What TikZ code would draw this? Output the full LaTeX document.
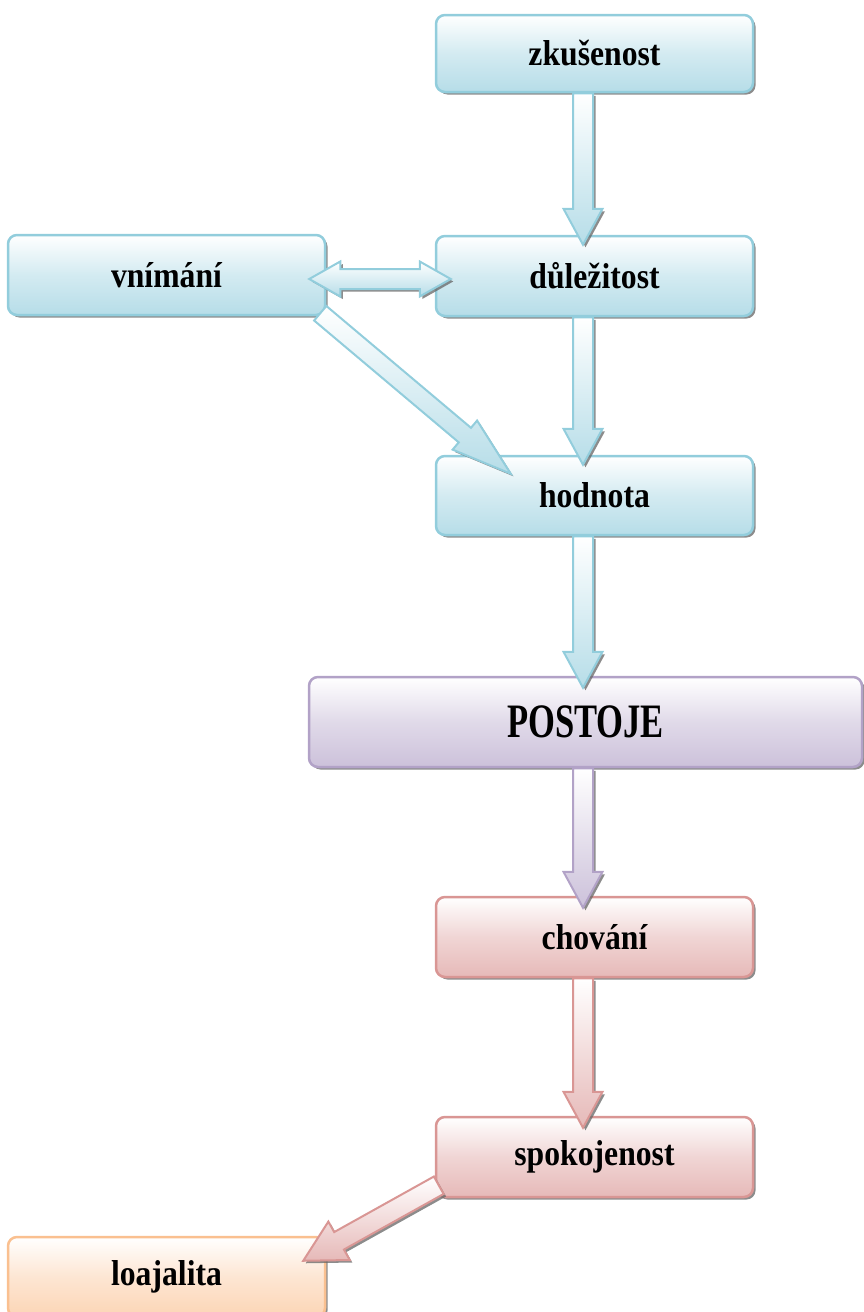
\documentclass[tikz,border=0pt]{standalone}
\usepackage{fontspec}
\usepackage{graphicx}
\setmainfont{Liberation Serif}
\usetikzlibrary{calc,shadows}
\definecolor{blline}{HTML}{92CDDC}
\definecolor{blfill}{HTML}{B6DDE8}
\definecolor{puline}{HTML}{B2A2C7}
\definecolor{pufill}{HTML}{CCC1DA}
\definecolor{reline}{HTML}{D99694}
\definecolor{refill}{HTML}{E6B9B8}
\definecolor{orline}{HTML}{FAC090}
\definecolor{orfill}{HTML}{FCD5B5}
\newcommand\lab[1]{\scalebox{0.88}[1]{\fontsize{36}{40}\selectfont\bfseries #1}}
\newcommand\biglab[1]{\scalebox{0.72}[1]{\fontsize{48}{52}\selectfont\bfseries #1}}
% block arrow: style, start, tip, half shaft, half head, head length
\newcommand\blockarrow[6]{%
  \coordinate (ba-h) at ($(#3)!#6!(#2)$);
  \draw[#1] ($(#2)!#4!90:(#3)$) -- ($(ba-h)!#4!90:(#3)$) -- ($(ba-h)!#5!90:(#3)$) -- (#3)
    -- ($(ba-h)!#5!-90:(#3)$) -- ($(ba-h)!#4!-90:(#3)$) -- ($(#2)!#4!-90:(#3)$) -- cycle;}
\newcommand\dblarrow[6]{%
  \coordinate (da-a) at ($(#2)!#6!(#3)$);
  \coordinate (da-b) at ($(#3)!#6!(#2)$);
  \draw[#1] (#2) -- ($(da-a)!#5!90:(#3)$) -- ($(da-a)!#4!90:(#3)$) -- ($(da-b)!#4!-90:(#2)$)
    -- ($(da-b)!#5!-90:(#2)$) -- (#3) -- ($(da-b)!#5!90:(#2)$) -- ($(da-b)!#4!90:(#2)$)
    -- ($(da-a)!#4!-90:(#3)$) -- ($(da-a)!#5!-90:(#3)$) -- cycle;}
\tikzset{
  shad/.style={drop shadow={shadow xshift=2.5pt, shadow yshift=-2.5pt, fill=black!60, opacity=0.75}},
  box/.style={draw=#1line, line width=2.5pt, rounded corners=9pt,
    minimum width=317pt, minimum height=80pt, inner sep=0pt,
    top color=white, bottom color=#1fill, middle color=white!40!#1fill, shad},
  barrow/.style={draw=#1line, line width=2pt, line join=miter,
    top color=white, bottom color=#1fill, shad},
}
\begin{document}
\begin{tikzpicture}[x=1pt,y=-1pt]
\useasboundingbox (0,0) rectangle (863,1312);
\node[box=bl, minimum height=77pt] (zk) at (594.5,53.5) {\lab{zkušenost}};
\node[box=bl] (vn) at (166.5,275) {\lab{vnímání}};
\node[box=bl] (dul) at (594.5,276) {\lab{důležitost}};
\node[box=bl, minimum height=79pt] (hod) at (594.5,495.5) {\lab{hodnota}};
\node[box=pu, minimum width=553pt, minimum height=90pt] (post) at (585.5,722) {\biglab{POSTOJE}};
\node[box=re] (chov) at (594.5,937) {\lab{chování}};
\node[box=re] (spok) at (594.5,1157) {\lab{spokojenost}};
\node[box=or] (loaj) at (166.5,1277) {\lab{loajalita}};

\coordinate (axis) at (583,0);
\coordinate (s1) at (zk.south -| axis);   \coordinate (t1) at ($(dul.north -| axis)+(0,10)$);
\coordinate (s2) at (dul.south -| axis);  \coordinate (t2) at ($(hod.north -| axis)+(0,10)$);
\coordinate (s3) at (hod.south -| axis);  \coordinate (t3) at ($(post.north -| axis)+(0,12)$);
\coordinate (s4) at (post.south -| axis); \coordinate (t4) at ($(chov.north -| axis)+(0,12)$);
\coordinate (s5) at (chov.south -| axis); \coordinate (t5) at ($(spok.north -| axis)+(0,12)$);
\blockarrow{barrow=bl}{s1}{t1}{10pt}{19.5pt}{36pt}
\blockarrow{barrow=bl}{s2}{t2}{10pt}{19.5pt}{36pt}
\blockarrow{barrow=bl}{s3}{t3}{10pt}{19.5pt}{36pt}
\blockarrow{barrow=pu}{s4}{t4}{10pt}{19.5pt}{36pt}
\blockarrow{barrow=re}{s5}{t5}{10pt}{19.5pt}{36pt}

\coordinate (d1) at ($(vn.east)+(-17,4)$);
\coordinate (d2) at ($(dul.west)+(16,3)$);
\dblarrow{barrow=bl}{d1}{d2}{10pt}{17.5pt}{31pt}

\coordinate (s6) at ($(vn.south east)+(-6,-3)$);
\coordinate (t6) at ($(hod.north west)+(76,19)$);
\blockarrow{barrow=bl}{s6}{t6}{9.5pt}{19pt}{60pt}

\coordinate (s7) at ($(spok.south west)+(4,-13)$);
\coordinate (t7) at ($(loaj.north east)+(-23,25)$);
\blockarrow{barrow=re}{s7}{t7}{10pt}{22pt}{41pt}
\end{tikzpicture}
\end{document}
